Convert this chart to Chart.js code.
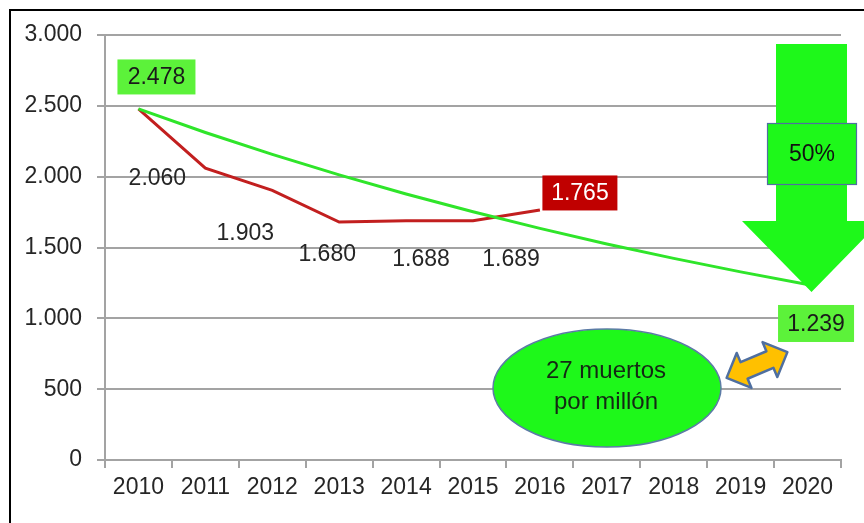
<!DOCTYPE html>
<html>
<head>
<meta charset="utf-8">
<script src="https://cdn.jsdelivr.net/npm/chart.js@4.4.1/dist/chart.umd.min.js"></script>
<style>
    html, body { margin: 0; padding: 0; background: #fff; }
    #wrap { width: 864px; height: 523px; }
</style>
</head>
<body>
<div id="wrap"><canvas id="chart" width="864" height="523"></canvas></div>
<script>
// Datos
const years = ['2010', '2011', '2012', '2013', '2014', '2015', '2016', '2017', '2018', '2019', '2020'];
const deaths = [2478, 2060, 1903, 1680, 1688, 1689, 1765, null, null, null, null];
const target = [2478, 2312, 2157, 2013, 1878, 1752, 1635, 1525, 1423, 1328, 1239];
const yMin = 0;
const yMax = 3000;
const yStep = 500;

// Etiquetas de datos: desplazamiento respecto al punto (px)
const labelOffsets = [null, [-48, 10], [-27, 43], [-12, 33], [15, 39], [38, 39], null];

const FONT = 'Arial, "Liberation Sans", sans-serif';
const GREEN_BOX = '#5cf23a';
const GREEN_BRIGHT = '#1ef81a';
const RED = '#c00000';
const GRID = '#a3a3a3';

function formatNum(v) {
    return String(v).replace(/\B(?=(\d{3})+(?!\d))/g, '.');
}

function textBox(ctx, text, cx, cy, w, h, fill, color) {
    ctx.fillStyle = fill;
    ctx.fillRect(cx - w / 2, cy - h / 2, w, h);
    ctx.fillStyle = color;
    ctx.textAlign = 'center';
    ctx.textBaseline = 'middle';
    ctx.fillText(text, cx, cy + 1);
}

function doubleArrow(ctx, cx, cy, angle, len, shaft, head, headLen) {
    const half = len / 2;
    const pts = [
        [-half, 0], [-half + headLen, -head / 2], [-half + headLen, -shaft / 2],
        [half - headLen, -shaft / 2], [half - headLen, -head / 2], [half, 0],
        [half - headLen, head / 2], [half - headLen, shaft / 2],
        [-half + headLen, shaft / 2], [-half + headLen, head / 2]
    ];
    ctx.save();
    ctx.translate(cx, cy);
    ctx.rotate(angle);
    ctx.beginPath();
    pts.forEach((p, i) => i === 0 ? ctx.moveTo(p[0], p[1]) : ctx.lineTo(p[0], p[1]));
    ctx.closePath();
    ctx.fillStyle = '#ffc000';
    ctx.fill();
    ctx.strokeStyle = '#4f6fa0';
    ctx.lineWidth = 2.5;
    ctx.lineJoin = 'round';
    ctx.stroke();
    ctx.restore();
}

const extrasPlugin = {
    id: 'extras',
    afterDatasetsDraw(chart) {
        const { ctx, scales: { x, y } } = chart;
        ctx.save();
        ctx.font = '23px ' + FONT;

        // etiquetas de la serie real
        deaths.forEach((v, i) => {
            const off = labelOffsets[i];
            if (v === null || !off) return;
            ctx.fillStyle = '#262626';
            ctx.textAlign = 'center';
            ctx.textBaseline = 'middle';
            ctx.fillText(formatNum(v), x.getPixelForValue(i) + off[0], y.getPixelForValue(v) + off[1]);
        });

        // cajas de valores
        const first = 0;
        const lastReal = 6;
        const lastTarget = target.length - 1;
        textBox(ctx, formatNum(target[first]), x.getPixelForValue(first) + 18, y.getPixelForValue(target[first]) - 32, 78, 35, GREEN_BOX, '#1a1a1a');
        textBox(ctx, formatNum(deaths[lastReal]), x.getPixelForValue(lastReal) + 40, y.getPixelForValue(deaths[lastReal]) - 17, 75, 35, RED, '#fff');

        // flecha grande del 50%
        ctx.fillStyle = GREEN_BRIGHT;
        ctx.beginPath();
        ctx.moveTo(776, 44);
        ctx.lineTo(847, 44);
        ctx.lineTo(847, 221);
        ctx.lineTo(881, 221);
        ctx.lineTo(811.5, 292);
        ctx.lineTo(742, 221);
        ctx.lineTo(776, 221);
        ctx.closePath();
        ctx.fill();

        ctx.fillStyle = GREEN_BRIGHT;
        ctx.fillRect(767, 123, 90, 62);
        ctx.strokeStyle = '#4f6fa0';
        ctx.lineWidth = 1.2;
        ctx.strokeRect(767.5, 123.5, 89, 61);
        ctx.fillStyle = '#111';
        ctx.textAlign = 'center';
        ctx.textBaseline = 'middle';
        ctx.fillText('50%', 812, 155);

        textBox(ctx, formatNum(target[lastTarget]), x.getPixelForValue(lastTarget) + 8.5, y.getPixelForValue(target[lastTarget]) + 39, 76, 37, GREEN_BOX, '#1a1a1a');

        // elipse
        ctx.beginPath();
        ctx.ellipse(607, 388, 114, 59, 0, 0, Math.PI * 2);
        ctx.fillStyle = GREEN_BRIGHT;
        ctx.fill();
        ctx.strokeStyle = '#5c7ba6';
        ctx.lineWidth = 1.5;
        ctx.stroke();
        ctx.fillStyle = '#142814';
        ctx.font = '24px ' + FONT;
        ctx.fillText('27 muertos', 606, 371);
        ctx.fillText('por millón', 606, 402);

        doubleArrow(ctx, 757, 365, -0.4, 66, 18, 38, 19);
        ctx.restore();
    },
    afterDraw(chart) {
        const ctx = chart.ctx;
        ctx.save();
        ctx.strokeStyle = '#000';
        ctx.lineWidth = 2;
        ctx.beginPath();
        ctx.moveTo(10, 523);
        ctx.lineTo(10, 10);
        ctx.lineTo(864, 10);
        ctx.stroke();
        ctx.restore();
    }
};

const ctx = document.getElementById('chart');
new Chart(ctx, {
    type: 'line',
    data: {
        labels: years,
        datasets: [
            {
                label: 'Objetivo',
                data: target,
                borderColor: '#2fe52a',
                borderWidth: 3,
                pointRadius: 0,
                tension: 0,
                fill: false
            },
            {
                label: 'Fallecidos',
                data: deaths,
                borderColor: '#c21f1f',
                borderWidth: 3,
                pointRadius: 0,
                tension: 0,
                fill: false
            }
        ]
    },
    options: {
        responsive: false,
        animation: false,
        layout: { padding: { left: 0, top: 35, right: 23, bottom: 0 } },
        plugins: {
            legend: { display: false },
            tooltip: { enabled: false }
        },
        scales: {
            x: {
                offset: true,
                grid: { offset: true, drawOnChartArea: false, color: GRID, lineWidth: 2, tickLength: 8 },
                border: { color: GRID, width: 2 },
                ticks: {
                    color: '#262626',
                    font: { family: FONT, size: 23 },
                    padding: 6,
                    maxRotation: 0,
                    autoSkip: false
                },
                afterFit(scale) { scale.height = 63; }
            },
            y: {
                min: yMin,
                max: yMax,
                grid: { color: GRID, lineWidth: 2, tickLength: 8 },
                border: { color: GRID, width: 2 },
                ticks: {
                    stepSize: yStep,
                    color: '#262626',
                    font: { family: FONT, size: 23 },
                    padding: 15,
                    callback: value => formatNum(value)
                },
                afterFit(scale) { scale.width = 105; }
            }
        }
    },
    plugins: [extrasPlugin]
});
</script>
</body>
</html>
